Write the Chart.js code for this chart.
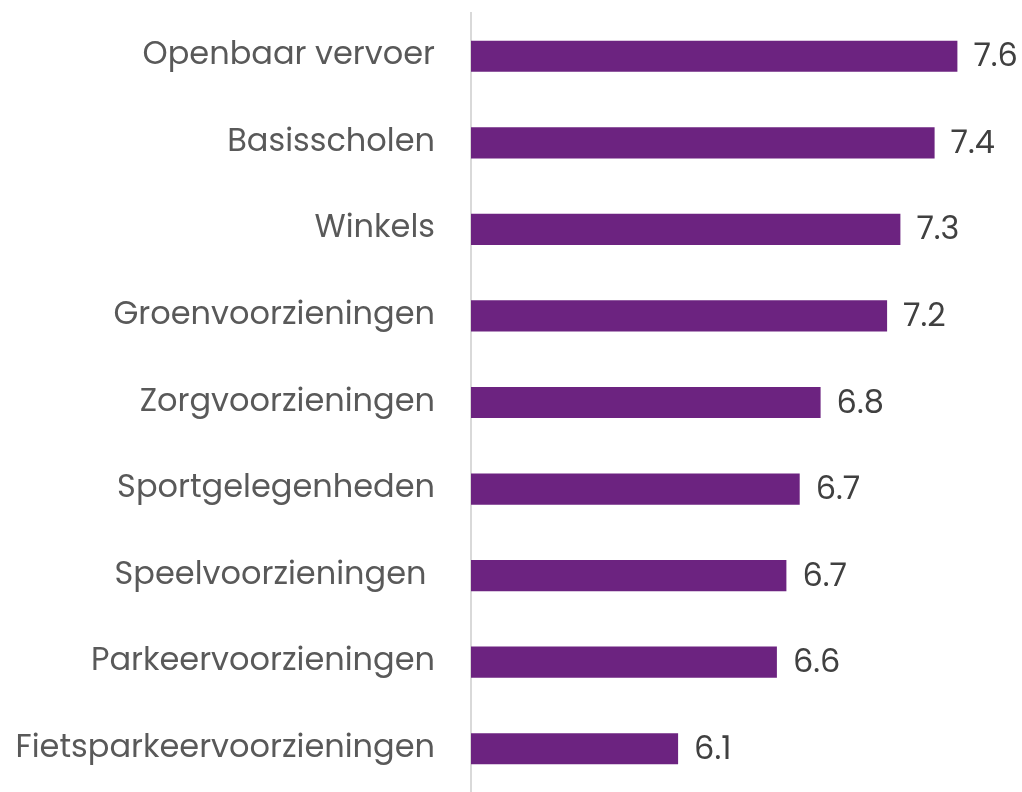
<!DOCTYPE html>
<html>
<head>
<meta charset="utf-8">
<script src="https://cdn.jsdelivr.net/npm/chart.js@4/dist/chart.umd.min.js"></script>
<style>
  html, body { margin: 0; padding: 0; background: #fff; }
  #wrap { width: 1022px; height: 792px; }
</style>
</head>
<body>
<div id="wrap"><canvas id="chart" width="1022" height="792"></canvas></div>
<script>
// Voorzieningen - gemiddeld rapportcijfer
const categories = [
  'Openbaar vervoer',
  'Basisscholen',
  'Winkels',
  'Groenvoorzieningen',
  'Zorgvoorzieningen',
  'Sportgelegenheden',
  'Speelvoorzieningen ',
  'Parkeervoorzieningen',
  'Fietsparkeervoorzieningen'
];
const scores = [7.56, 7.44, 7.26, 7.19, 6.84, 6.73, 6.66, 6.61, 6.09];

const barColor = '#6C2380';
const labelFont = 'Poppins, "Open Sans", sans-serif';

// draws the score at the end of each bar
const valueLabels = {
  id: 'valueLabels',
  afterDatasetsDraw(chart) {
    const ctx = chart.ctx;
    const meta = chart.getDatasetMeta(0);
    ctx.save();
    ctx.font = '32px ' + labelFont;
    ctx.fillStyle = '#404040';
    ctx.textAlign = 'left';
    ctx.textBaseline = 'middle';
    meta.data.forEach((bar, i) => {
      ctx.fillText(scores[i].toFixed(1), bar.x + 16, bar.y + 2);
    });
    ctx.restore();
  }
};

new Chart(document.getElementById('chart').getContext('2d'), {
  type: 'bar',
  data: {
    labels: categories,
    datasets: [{
      data: scores,
      backgroundColor: barColor,
      borderWidth: 0,
      categoryPercentage: 1,
      barPercentage: 0.36
    }]
  },
  options: {
    indexAxis: 'y',
    responsive: false,
    animation: false,
    layout: { padding: { top: 13, bottom: -3, left: 0, right: 0 } },
    scales: {
      x: { display: false, min: 5, max: 7.9 },
      y: {
        grid: { display: false, drawTicks: false },
        border: { display: true, color: '#d9d9d9', width: 2 },
        ticks: {
          color: '#595959',
          padding: 36,
          font: { family: labelFont, size: 32 }
        },
        afterFit(scale) {
          scale.width = 471;
          scale.paddingTop = 0;
          scale.paddingBottom = 0;
        }
      }
    },
    plugins: {
      legend: { display: false },
      tooltip: { enabled: false }
    }
  },
  plugins: [valueLabels]
});
</script>
</body>
</html>
